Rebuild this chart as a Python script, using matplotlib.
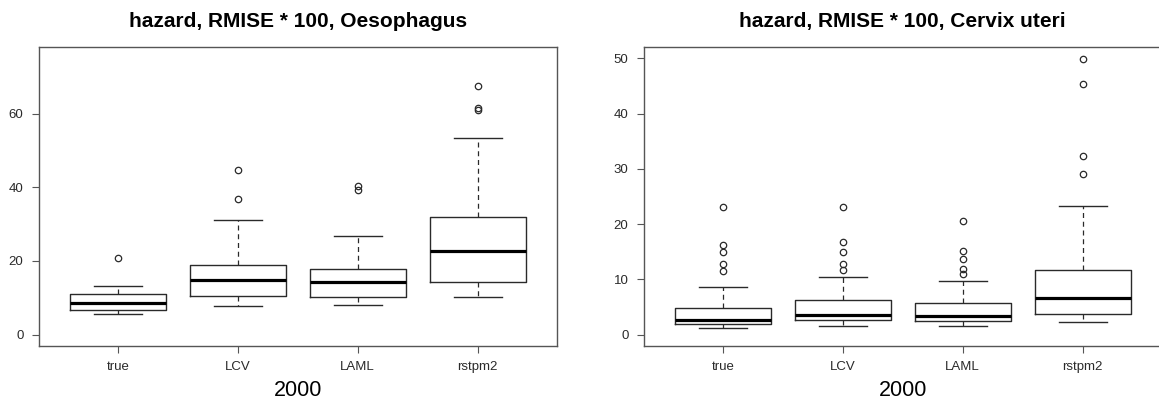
import matplotlib
matplotlib.use("Agg")
import matplotlib.pyplot as plt

methods = ["true", "LCV", "LAML", "rstpm2"]

# Oesophagus: five-number summaries and outliers (hazard RMISE * 100)
oes_whislo = [5.5, 7.9, 8.0, 10.2]
oes_q1 = [6.6, 10.5, 10.3, 14.2]
oes_med = [8.5, 14.7, 14.3, 22.8]
oes_q3 = [11.1, 18.9, 17.8, 31.8]
oes_whishi = [13.1, 31.1, 26.8, 53.5]
oes_fliers = [[20.9], [36.8, 44.7], [39.3, 40.4], [60.9, 61.6, 67.5]]

# Cervix uteri
cer_whislo = [1.2, 1.6, 1.5, 2.3]
cer_q1 = [1.9, 2.7, 2.5, 3.8]
cer_med = [2.6, 3.6, 3.4, 6.6]
cer_q3 = [4.8, 6.2, 5.7, 11.7]
cer_whishi = [8.6, 10.5, 9.7, 23.2]
cer_fliers = [[11.6, 12.7, 15.0, 16.2, 23.1],
              [11.7, 12.8, 15.0, 16.7, 23.1],
              [11.0, 11.8, 13.7, 15.1, 20.6],
              [29.0, 32.3, 45.4, 49.8]]

W, H = 1159, 407
fig = plt.figure(figsize=(W / 100, H / 100), dpi=100)
fig.patch.set_facecolor("white")

FONT = ["Liberation Sans", "DejaVu Sans"]
INK = "#2a2a2a"


def stats(whislo, q1, med, q3, whishi, fliers):
    out = []
    for i, name in enumerate(methods):
        out.append(dict(label=name, whislo=whislo[i], q1=q1[i], med=med[i],
                        q3=q3[i], whishi=whishi[i], fliers=fliers[i]))
    return out


def panel(left, data, ylim, yticks, title):
    ax = fig.add_axes([left / W, (H - 345.7) / H, 518 / W, 298.4 / H])
    ax.bxp(data, positions=range(1, 5), widths=0.8, capwidths=0.4,
           boxprops=dict(color=INK, linewidth=1.0),
           whiskerprops=dict(color=INK, linewidth=0.9, linestyle=(0, (4, 3))),
           capprops=dict(color=INK, linewidth=1.0),
           medianprops=dict(color="black", linewidth=2.3, solid_capstyle="butt"),
           flierprops=dict(marker="o", markersize=4.6, markerfacecolor="none",
                           markeredgecolor=INK, markeredgewidth=0.9))
    ax.set_xlim(0.34, 4.66)
    ax.set_ylim(*ylim)
    ax.set_yticks(yticks)
    ax.set_xticks(range(1, 5))
    ax.set_xticklabels(methods)
    for s in ax.spines.values():
        s.set_color("#555555")
        s.set_linewidth(1.0)
    ax.tick_params(axis="both", length=5, width=0.8, color="#555555",
                   pad=6, labelsize=9.5, labelcolor=INK)
    for lab in ax.get_xticklabels() + ax.get_yticklabels():
        lab.set_family(FONT)
    cx = (left + 259) / W
    fig.text(cx, 1 - 26.7 / H, title, ha="center", va="baseline",
             fontsize=15, fontweight="bold", family=FONT, color="black")
    fig.text(cx, 1 - 396 / H, "2000", ha="center", va="baseline",
             fontsize=15.5, family=FONT, color="black")
    return ax


panel(38.7, stats(oes_whislo, oes_q1, oes_med, oes_q3, oes_whishi, oes_fliers),
      (-3, 78), [0, 20, 40, 60], "hazard, RMISE * 100, Oesophagus")
panel(643.7, stats(cer_whislo, cer_q1, cer_med, cer_q3, cer_whishi, cer_fliers),
      (-2, 52), [0, 10, 20, 30, 40, 50], "hazard, RMISE * 100, Cervix uteri")

fig.savefig("out.png", dpi=100, facecolor="white")
